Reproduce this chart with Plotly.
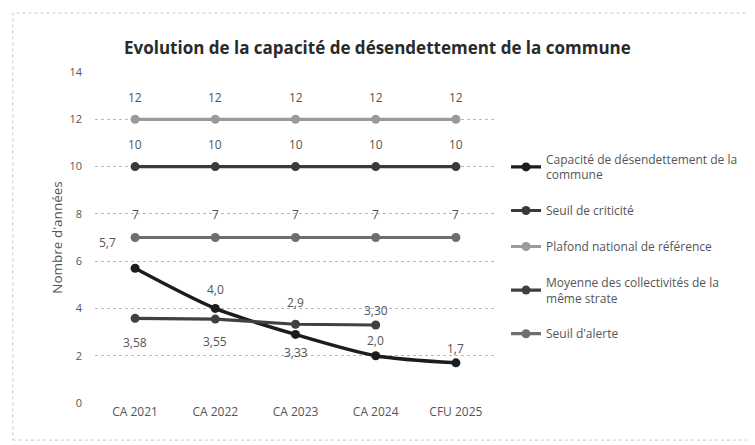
import plotly.graph_objects as go

categories = ["CA 2021", "CA 2022", "CA 2023", "CA 2024", "CFU 2025"]
capacite = [5.7, 4.0, 2.9, 2.0, 1.7]
seuil_criticite = [10, 10, 10, 10, 10]
plafond_national = [12, 12, 12, 12, 12]
moyenne_strate = [3.58, 3.55, 3.33, 3.30]
seuil_alerte = [7, 7, 7, 7, 7]

capacite_labels = ["5,7", "4,0", "2,9", "2,0", "1,7"]
moyenne_labels = ["3,58", "3,55", "3,33", "3,30"]

FONT = "Open Sans, Liberation Sans, sans-serif"

fig = go.Figure()

series = [
    ("Capacité de désendettement de la<br>commune", capacite, "#1c1c1c", 3.4, "spline"),
    ("Seuil de criticité", seuil_criticite, "#3a3a3a", 3.2, "linear"),
    ("Plafond national de référence", plafond_national, "#9a9a9a", 3.2, "linear"),
    ("Moyenne des collectivités de la<br>même strate", moyenne_strate, "#404040", 3.2, "linear"),
    ("Seuil d'alerte", seuil_alerte, "#6e6e6e", 3.2, "linear"),
]

for i, (name, vals, col, w, shape) in enumerate(series):
    fig.add_trace(go.Scatter(
        x=categories[:len(vals)], y=vals, name=name, mode="lines+markers",
        line=dict(color=col, width=w, shape=shape, smoothing=0.8),
        marker=dict(color=col, size=9),
        legendgroup=str(i),
    ))

annotations = []
lab_font = dict(family=FONT, size=12, color="#555555")

def add_label(xc, yv, txt, xs, ys):
    annotations.append(dict(x=xc, y=yv, xref="x", yref="y", text=txt, showarrow=False,
                            xshift=xs, yshift=ys, font=lab_font))

for c, v in zip(categories, plafond_national):
    add_label(c, v, str(v), 0, 22)
for c, v in zip(categories, seuil_criticite):
    add_label(c, v, str(v), 0, 22)
for c, v in zip(categories, seuil_alerte):
    add_label(c, v, str(v), 0, 23)

cap_shifts = [(-28, 26), (0, 19), (0, 32), (0, 15), (0, 14)]
for c, v, t, (xs, ys) in zip(categories, capacite, capacite_labels, cap_shifts):
    add_label(c, v, t, xs, ys)

moy_shifts = [(0, -24), (0, -22), (0, -28), (0, 14)]
for c, v, t, (xs, ys) in zip(categories, moyenne_strate, moyenne_labels, moy_shifts):
    add_label(c, v, t, xs, ys)

annotations.append(dict(
    text="Evolution de la capacité de désendettement de la commune",
    xref="paper", yref="paper", x=0.704, y=1.0755, xanchor="center", yanchor="middle",
    showarrow=False,
    font=dict(family=FONT, size=17, color="#2a2a2a", weight="bold"),
))

fig.update_layout(
    width=747, height=437,
    margin=dict(l=87, r=255, t=64, b=42),
    paper_bgcolor="white", plot_bgcolor="white",
    showlegend=True,
    legend=dict(x=1.025, y=0.78, xanchor="left", yanchor="top",
                font=dict(family=FONT, size=12, color="#555555"),
                tracegroupgap=17, itemwidth=30, bgcolor="rgba(0,0,0,0)"),
    annotations=annotations,
    xaxis=dict(range=[-0.5, 4.5], showgrid=False, showline=False, zeroline=False, ticks="",
               tickfont=dict(family=FONT, size=12, color="#555555")),
    yaxis=dict(range=[0, 14], dtick=2, showgrid=True, gridcolor="#b8b8b8", griddash="dot",
               gridwidth=1, zeroline=False, showline=False, ticks="", ticklabelstandoff=12,
               tickfont=dict(family=FONT, size=11, color="#555555"),
               title=dict(text="Nombre d'années", font=dict(family=FONT, size=13.5, color="#555555"),
                          standoff=3)),
    shapes=[dict(type="rect", xref="paper", yref="paper", x0=-0.205, x1=1.65, y0=-0.112, y1=1.178,
                 line=dict(color="#c8c8c8", width=1, dash="dot"))],
)

fig.write_html("out.html")
